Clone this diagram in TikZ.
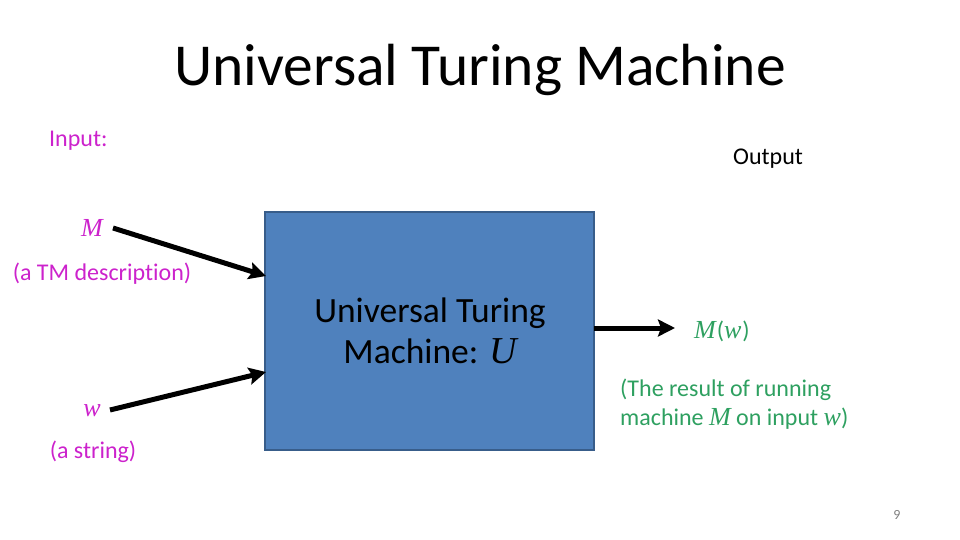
\documentclass[tikz,border=0pt]{standalone}
\usepackage{fontspec}
\setmainfont{Carlito}[Ligatures={NoCommon}]
\newfontfamily\myserif{Liberation Serif}
\usetikzlibrary{arrows.meta}
\definecolor{inmag}{RGB}{204,34,204}
\definecolor{outgrn}{RGB}{46,160,96}
\definecolor{boxfill}{RGB}{79,129,189}
\definecolor{boxdraw}{RGB}{56,93,138}
\newcommand{\mi}[1]{{\myserif\itshape\fontsize{26}{29}\selectfont #1}}
\tikzset{
  lbl/.style={inner sep=0pt, font=\fontsize{24}{29}\selectfont},
  inlbl/.style={lbl, text=inmag},
  outlbl/.style={lbl, text=outgrn},
  conn/.style={line width=5pt, -{Stealth[length=17pt,width=17pt,inset=3pt]}},
}
\begin{document}
\begin{tikzpicture}[x=1pt,y=-1pt]
\useasboundingbox (0,0) rectangle (960,540);
\node[inner sep=0pt, font=\fontsize{59.5}{66}\selectfont] (title) at (480,70) {Universal Turing Machine};
\node[inlbl, anchor=west] (input) at (49,141) {Input:};
\node[lbl, anchor=west] (output) at (733,159) {Output};
\node[draw=boxdraw, line width=1.5pt, fill=boxfill, minimum width=329pt, minimum height=238pt, anchor=north west, inner sep=0pt] (box) at (264,211) {};
\node[align=center, inner sep=0pt, font=\fontsize{35.5}{41}\selectfont] (boxtext) at (430,331) {Universal Turing\\Machine: {\myserif\itshape\fontsize{38}{41}\selectfont U}};
\node[inlbl] (M) at (92,228) {\mi{M}};
\node[inlbl] (Mdesc) at (102,274) {(a TM description)};
\node[inlbl] (w) at (92,411) {\mi{w}};
\node[inlbl] (wdesc) at (93,452) {(a string)};
\node[outlbl, anchor=west] (Mw) at (694,331) {\mi{M}\kern1pt(\mi{w}\kern1pt)};
\node[outlbl, anchor=north west, align=left] (res) at (620,379) {(The result of running\\machine \mi{M} on input \mi{w})};
\node[inner sep=0pt, text=gray, font=\fontsize{14}{16}\selectfont] (pg) at (897,515) {9};
\coordinate (a1s) at (113,228);
\coordinate (a1e) at (266,276);
\coordinate (a2s) at (110,410);
\coordinate (a2e) at (266,372);
\coordinate (a3s) at (594,328);
\coordinate (a3e) at (675,328);
\draw[conn] (a1s) -- (a1e);
\draw[conn] (a2s) -- (a2e);
\draw[conn] (a3s) -- (a3e);
\end{tikzpicture}
\end{document}
